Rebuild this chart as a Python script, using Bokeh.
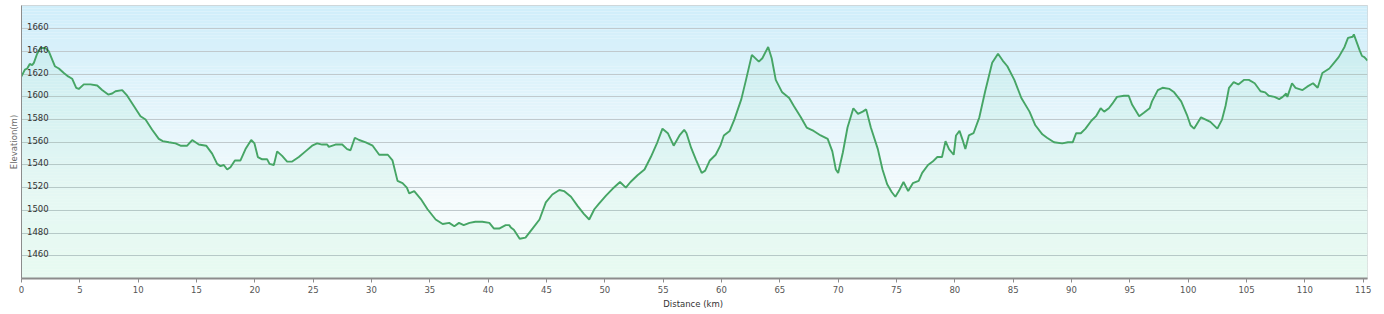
import numpy as np
from bokeh.plotting import figure
from bokeh.models import Range1d, FixedTicker, ColumnDataSource
from bokeh.core.properties import value
from bokeh.embed import file_html
from bokeh.resources import INLINE

# ---- data ----
distance_km = [
    0.0, 0.29, 0.49, 0.71, 0.91, 1.06, 1.34, 1.63, 2.06, 2.34, 2.86, 3.2, 3.63, 4.0, 4.34, 4.69, 4.91,
    5.34, 5.91, 6.49, 6.91, 7.43, 7.77, 8.06, 8.63, 9.06, 9.63, 10.2, 10.63, 11.2, 11.77, 12.11, 12.63,
    13.2, 13.63, 14.2, 14.63, 15.2, 15.83, 16.34, 16.77, 17.06, 17.34, 17.63, 17.91, 18.29, 18.77, 19.2,
    19.69, 19.97, 20.26, 20.63, 21.06, 21.26, 21.63, 21.91, 22.34, 22.77, 23.2, 23.77, 24.34, 24.91,
    25.34, 25.77, 26.2, 26.34, 26.91, 27.49, 27.91, 28.2, 28.57, 28.94, 29.51, 30.1, 30.66, 31.4, 31.8,
    32.23, 32.66, 33.03, 33.23, 33.66, 34.23, 34.8, 35.5, 36.1, 36.66, 37.1, 37.5, 37.9, 38.4, 38.9,
    39.5, 40.1, 40.5, 40.94, 41.5, 41.8, 41.94, 42.2, 42.7, 43.2, 43.8, 44.4, 44.94, 45.5, 46.1, 46.5,
    47.1, 47.66, 48.2, 48.66, 49.1, 49.5, 50.1, 50.66, 51.3, 51.8, 52.2, 52.8, 53.4, 53.94, 54.5, 54.94,
    55.4, 55.9, 56.4, 56.8, 57.0, 57.4, 57.8, 58.3, 58.6, 59.0, 59.5, 59.9, 60.2, 60.7, 61.1, 61.7,
    62.1, 62.6, 63.0, 63.2, 63.5, 64.0, 64.3, 64.65, 65.2, 65.8, 66.2, 66.8, 67.3, 67.9, 68.5, 69.1,
    69.5, 69.8, 70.0, 70.4, 70.8, 71.3, 71.7, 72.1, 72.4, 72.8, 73.4, 73.8, 74.2, 74.6, 74.9, 75.2,
    75.6, 76.0, 76.4, 76.9, 77.2, 77.7, 78.1, 78.5, 78.9, 79.2, 79.5, 79.9, 80.1, 80.4, 80.7, 80.9,
    81.2, 81.6, 82.1, 82.6, 83.2, 83.7, 84.1, 84.5, 85.1, 85.7, 86.4, 86.9, 87.5, 87.9, 88.5, 89.2,
    89.7, 90.1, 90.4, 90.8, 91.2, 91.7, 92.1, 92.5, 92.8, 93.2, 93.5, 93.9, 94.5, 94.9, 95.2, 95.8,
    96.2, 96.7, 96.9, 97.4, 97.8, 98.4, 98.8, 99.4, 99.9, 100.2, 100.5, 101.1, 101.5, 101.9, 102.5,
    102.9, 103.2, 103.5, 103.9, 104.3, 104.8, 105.2, 105.7, 106.2, 106.6, 106.9, 107.4, 107.8, 108.1,
    108.4, 108.5, 108.9, 109.2, 109.8, 110.2, 110.7, 111.1, 111.5, 112.1, 112.5, 112.9, 113.4, 113.7,
    114.1, 114.2, 114.7, 114.9, 115.1, 115.37,
]
elevation_m = [
    1618, 1624, 1625, 1629, 1628, 1630, 1638, 1643, 1643, 1640, 1627, 1625, 1621, 1618, 1616, 1608, 1607,
    1611, 1611, 1610, 1606, 1602, 1603, 1605, 1606, 1601, 1592, 1583, 1580, 1571, 1563, 1561, 1560,
    1559, 1557, 1557, 1562, 1558, 1557, 1550, 1541, 1539, 1540, 1536, 1538, 1544, 1544, 1554,
    1562, 1559, 1547, 1545, 1545, 1541, 1540, 1552, 1548, 1543, 1543, 1547, 1552, 1557,
    1559, 1558, 1558, 1556, 1558, 1558, 1554, 1553, 1564, 1562, 1560, 1557, 1549, 1549, 1544,
    1526, 1524, 1520, 1515, 1517, 1510, 1501, 1492, 1488, 1489, 1486, 1489, 1487, 1489, 1490,
    1490, 1489, 1484, 1484, 1487, 1487, 1485, 1483, 1475, 1476, 1484, 1492, 1507, 1514, 1518, 1517,
    1512, 1504, 1497, 1492, 1501, 1506, 1513, 1519, 1525, 1520, 1525, 1531, 1536, 1547, 1560, 1572,
    1568, 1557, 1566, 1571, 1568, 1555, 1545, 1533, 1535, 1544, 1549, 1557, 1566, 1570, 1580, 1598,
    1615, 1637, 1633, 1631, 1634, 1644, 1634, 1615, 1604, 1599, 1592, 1582, 1573, 1570, 1566, 1563,
    1552, 1536, 1533, 1551, 1573, 1590, 1585, 1587, 1589, 1573, 1554, 1536, 1523, 1516, 1512, 1517,
    1525, 1517, 1524, 1526, 1533, 1540, 1543, 1547, 1547, 1561, 1554, 1549, 1566, 1570, 1561, 1554,
    1566, 1568, 1582, 1605, 1630, 1638, 1632, 1627, 1615, 1599, 1587, 1575, 1567, 1564, 1560, 1559,
    1560, 1560, 1568, 1568, 1572, 1579, 1583, 1590, 1587, 1590, 1594, 1600, 1601, 1601, 1593, 1583,
    1586, 1590, 1596, 1606, 1608, 1607, 1604, 1596, 1584, 1575, 1572, 1582, 1580, 1578, 1572,
    1580, 1592, 1608, 1613, 1611, 1615, 1615, 1612, 1605, 1604, 1601, 1600, 1598, 1600,
    1603, 1600, 1612, 1608, 1606, 1609, 1612, 1608, 1621, 1625, 1630, 1635, 1644, 1652,
    1653, 1655, 1641, 1636, 1635, 1632,
]
x_ticks = list(range(0, 116, 5))
y_ticks = [1460, 1480, 1500, 1520, 1540, 1560, 1580, 1600, 1620, 1640, 1660]
y_tick_labels = [str(v) for v in y_ticks]

FONT = "DejaVu Sans"
Y_MIN, Y_MAX = 1440, 1680.5

p = figure(width=1384, height=314, output_backend="svg", toolbar_location=None,
           x_range=Range1d(0, distance_km[-1]), y_range=Range1d(Y_MIN, Y_MAX),
           min_border_left=21, min_border_right=17, min_border_top=5, min_border_bottom=36,
           background_fill_color="white", border_fill_color="white",
           outline_line_color="#cfcfcf", outline_line_width=1)

# background gradient (style): light sky blue at top to pale mint at bottom
n = 90
edges = np.linspace(Y_MIN, Y_MAX, n + 1)
t = (edges[:-1] + edges[1:]) / 2
frac = (t - Y_MIN) / (Y_MAX - Y_MIN)
stops_f = [0.0, 0.3, 1.0]
stops_c = np.array([[246, 254, 250], [244, 251, 253], [208, 238, 250]], dtype=float)
cols = []
for f in frac:
    r = np.interp(f, stops_f, stops_c[:, 0])
    g = np.interp(f, stops_f, stops_c[:, 1])
    b = np.interp(f, stops_f, stops_c[:, 2])
    cols.append("#%02x%02x%02x" % (int(r), int(g), int(b)))
bg = p.quad(left=-10, right=200, bottom=edges[:-1], top=edges[1:] + 0.01,
            fill_color=cols, line_color=None)
bg.level = "image"

src = ColumnDataSource(dict(x=distance_km, y=elevation_m))
p.varea(x="x", y1=Y_MIN, y2="y", source=src, fill_color="#2ecc71", fill_alpha=0.065)
p.line(x="x", y="y", source=src, line_color="#46a565", line_width=1.9)

# in-plot elevation labels
p.text(x=[0] * len(y_ticks), y=y_ticks, text=y_tick_labels, x_offset=5.5, y_offset=-2,
       text_font=value(FONT), text_font_size="8.5px", text_color="#333333",
       text_align="left", text_baseline="alphabetic")

# grid
p.xgrid.visible = False
p.ygrid.ticker = FixedTicker(ticks=y_ticks)
p.ygrid.grid_line_color = "#c0c9cd"
p.ygrid.grid_line_width = 1.2

# y axis (title only)
ya = p.yaxis[0]
ya.ticker = FixedTicker(ticks=[])
ya.axis_line_color = "#8c8c8c"
ya.major_tick_line_color = None
ya.minor_tick_line_color = None
ya.major_tick_out = 0
ya.major_label_standoff = 0
ya.axis_label = "Elevation(m)"
ya.axis_label_text_font = FONT
ya.axis_label_text_font_size = "8.5px"
ya.axis_label_text_font_style = "normal"
ya.axis_label_text_color = "#6b6b6b"
ya.axis_label_standoff = 3

# x axis
xa = p.xaxis[0]
xa.ticker = FixedTicker(ticks=x_ticks)
xa.axis_line_color = "#8c8c8c"
xa.axis_line_width = 2
xa.major_tick_line_color = "#8c8c8c"
xa.major_tick_out = 4
xa.major_tick_in = 0
xa.minor_tick_line_color = None
xa.major_label_text_font = FONT
xa.major_label_text_font_size = "8.5px"
xa.major_label_text_color = "#555555"
xa.major_label_standoff = 3
xa.axis_label = "Distance  (km)"
xa.axis_label_text_font = FONT
xa.axis_label_text_font_size = "8.5px"
xa.axis_label_text_font_style = "normal"
xa.axis_label_text_color = "#333333"
xa.axis_label_standoff = 3

open("out.html", "w").write(file_html(p, INLINE))
